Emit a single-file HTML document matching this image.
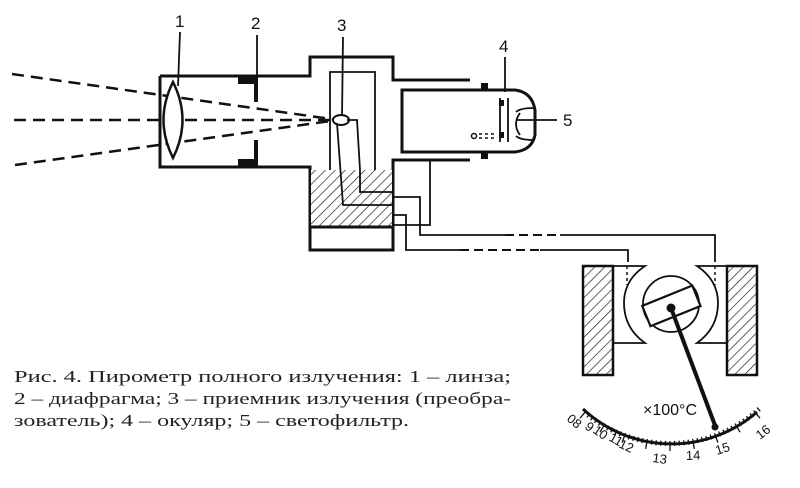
<!DOCTYPE html>
<html><head><meta charset="utf-8"><style>
html,body{margin:0;padding:0;background:#fff;width:800px;height:488px;overflow:hidden}
svg{display:block}
.s{fill:none;stroke:#111;stroke-width:3}
.t{fill:none;stroke:#111;stroke-width:1.8}
.n{font-family:"Liberation Sans",sans-serif;font-size:17px;fill:#111}
</style></head><body>
<svg id="g" width="800" height="488" viewBox="0 0 800 488" xmlns="http://www.w3.org/2000/svg">
<defs>
<pattern id="h" width="7" height="7" patternUnits="userSpaceOnUse" patternTransform="rotate(45)">
<rect width="7" height="7" fill="#fff"/><line x1="0" y1="0" x2="0" y2="7" stroke="#222" stroke-width="1.4"/>
</pattern>
</defs>
<!-- labels -->
<text class="n" x="175" y="27">1</text>
<text class="n" x="251" y="29">2</text>
<text class="n" x="337" y="31">3</text>
<text class="n" x="499" y="52">4</text>
<text class="n" x="563" y="126">5</text>
<line class="t" x1="180" y1="32" x2="178" y2="86"/>
<line class="t" x1="257" y1="35" x2="257" y2="78"/>
<line class="t" x1="343" y1="37" x2="342" y2="118"/>
<line class="t" x1="505" y1="57" x2="505" y2="92"/>
<line class="t" x1="517" y1="120" x2="557" y2="120"/>
<!-- dashed rays -->
<g stroke="#111" stroke-width="2.5" stroke-dasharray="12,7" fill="none">
<path d="M12 74 L338 120"/><path d="M14 120 L338 120"/><path d="M15 165 L338 120"/>
</g>
<!-- housing -->
<path class="s" d="M160 76 L310 76 L310 57 L393 57 L393 80 L470 80"/>
<path class="s" d="M160 76 L160 167 L310 167 L310 250 L393 250 L393 160 L470 160"/>
<line class="s" x1="160" y1="76" x2="160" y2="167"/>
<!-- lens -->
<path d="M173 82 Q192 120 173 158 Q154 120 173 82 Z" fill="#fff" stroke="#111" stroke-width="2.5"/>
<!-- diaphragm -->
<rect x="238" y="76" width="19" height="8" fill="#111"/>
<rect x="238" y="159" width="19" height="8" fill="#111"/>
<line x1="256" y1="76" x2="256" y2="102" stroke="#111" stroke-width="4"/>
<line x1="256" y1="140" x2="256" y2="167" stroke="#111" stroke-width="4"/>
<!-- hatched block -->
<rect x="311" y="170" width="81" height="57" fill="url(#h)"/>
<line class="s" x1="310" y1="227" x2="393" y2="227"/>
<!-- inner frame -->
<path class="t" d="M330 170 L330 72 L375 72 L375 170"/>
<!-- detector -->
<ellipse cx="341" cy="120" rx="8" ry="5" fill="#fff" stroke="#111" stroke-width="2"/>
<path class="t" d="M337 123 L343 205 L393 205 M347 120 L357 120 L360 170 L360 192 L393 192"/>
<!-- wires -->
<path class="t" d="M393 197 L420 197 L420 235 L505 235"/>
<path class="t" d="M393 215 L406 215 L406 250 L460 250"/>
<path class="t" d="M430 160 L430 225 L393 225"/>
<g stroke="#111" stroke-width="2" stroke-dasharray="9,5" fill="none">
<path d="M505 235 L560 235"/><path d="M460 250 L540 250"/>
</g>
<path class="t" d="M560 235 L715 235 L715 262"/>
<path class="t" d="M540 250 L628 250 L628 262"/>
<!-- eyepiece -->
<path class="s" d="M402 90 L515 90 Q532 92 535 110 L535 135 Q532 150 515 152 L402 152 Z"/>
<rect x="481" y="83" width="7" height="8" fill="#111"/>
<rect x="481" y="152" width="7" height="7" fill="#111"/>
<path class="t" d="M500 98 L500 142 M508 98 L508 142"/>
<rect x="499" y="100" width="5" height="6" fill="#111"/>
<rect x="499" y="132" width="5" height="6" fill="#111"/>
<path d="M534 108 Q520 108 516 112 M534 140 Q520 140 516 136" class="t"/>
<path d="M520 113 Q512 124 520 135" class="t"/>
<circle cx="474" cy="136" r="2.5" fill="none" stroke="#111" stroke-width="1.5"/>
<path d="M479 134 L496 134 M479 138 L496 138" stroke="#111" stroke-width="1.5" stroke-dasharray="3,3"/>
<!-- meter -->
<rect x="583" y="266" width="30" height="109" fill="url(#h)" stroke="#111" stroke-width="2.5"/>
<rect x="727" y="266" width="30" height="109" fill="url(#h)" stroke="#111" stroke-width="2.5"/>
<path class="t" d="M613 266 L645 266 Q624 280 624 303 Q624 328 645 343 L613 343"/>
<path class="t" d="M727 266 L697 266 Q718 280 718 303 Q718 328 697 343 L727 343"/>
<path d="M627 266 L627 285 M715 266 L715 285" stroke="#111" stroke-width="1.5" stroke-dasharray="3,3"/>
<circle cx="671" cy="304" r="28" class="t" stroke-width="2.2"/>
<g transform="rotate(-22 671 305)"><rect x="644" y="295" width="54" height="22" fill="#fff" stroke="#111" stroke-width="2.2"/></g>
<line x1="671" y1="308" x2="716" y2="428" stroke="#111" stroke-width="4"/>
<circle cx="671" cy="308" r="4.5" fill="#111"/>
<circle cx="715" cy="427" r="3.5" fill="#111"/>
<path d="M583 409 A130 130 0 0 0 757 412" fill="none" stroke="#111" stroke-width="3"/>
<g id="ticks" stroke="#111" stroke-width="1.3"></g>
<text x="643" y="415" font-family="Liberation Sans,sans-serif" font-size="16" fill="#111">×100°C</text>
<g font-family="Liberation Sans,sans-serif" font-size="13" fill="#111">
<text transform="translate(566,420) rotate(40)">08</text>
<text transform="translate(584,428) rotate(38)">9</text>
<text transform="translate(592,432) rotate(35)">10</text>
<text transform="translate(608,440) rotate(30)">11</text>
<text transform="translate(618,447) rotate(25)">12</text>
<text transform="translate(652,462) rotate(8)">13</text>
<text transform="translate(686,460) rotate(-2)">14</text>
<text transform="translate(717,455) rotate(-18)">15</text>
<text transform="translate(760,440) rotate(-38)">16</text>
</g>
<!-- caption -->
<g font-family="Liberation Serif,serif" font-size="17" fill="#222">
<text x="14" y="382" textLength="497" lengthAdjust="spacingAndGlyphs">Рис. 4. Пирометр полного излучения: 1 – линза;</text>
<text x="14" y="404" textLength="497" lengthAdjust="spacingAndGlyphs">2 – диафрагма; 3 – приемник излучения (преобра-</text>
<text x="14" y="426" textLength="395" lengthAdjust="spacingAndGlyphs">зователь); 4 – окуляр; 5 – светофильтр.</text>
</g>
</svg>
<script>
var g=document.getElementById('ticks'),cx=670,cy=311,R=130,s='';
for(var a=-40,i=0;a<=42;a+=2,i++){var r=a*Math.PI/180,L=(i%5==0)?10:5;
var x1=cx+R*Math.sin(r)*1.0,y1=cy+R*Math.cos(r),x2=cx+(R+L)*Math.sin(r),y2=cy+(R+L)*Math.cos(r);
s+='<line x1="'+x1.toFixed(1)+'" y1="'+y1.toFixed(1)+'" x2="'+x2.toFixed(1)+'" y2="'+y2.toFixed(1)+'"/>';}
g.innerHTML=s;
</script>
</body></html>
